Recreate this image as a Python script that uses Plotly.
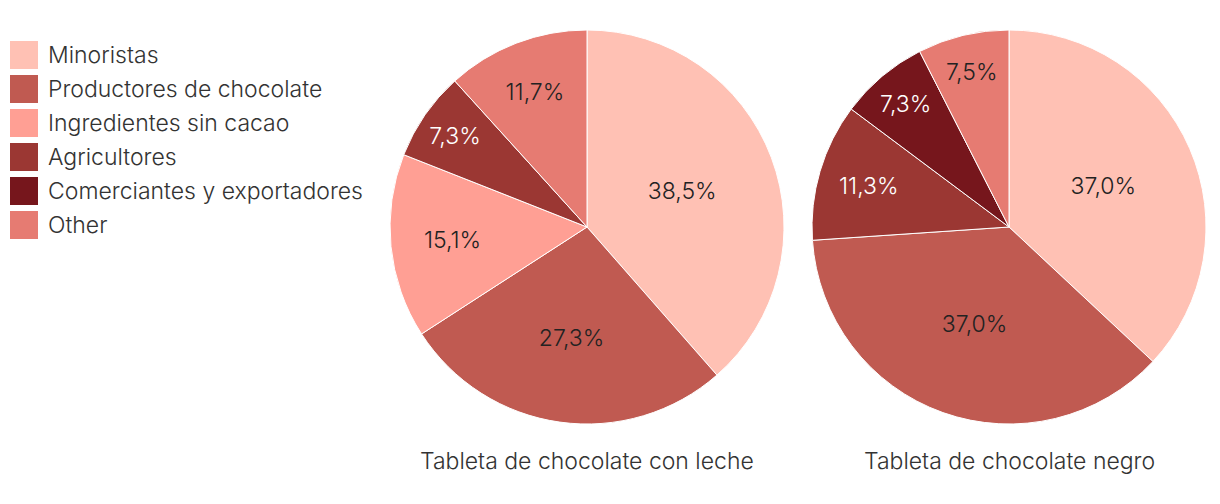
import plotly.graph_objects as go

categories = ["Minoristas", "Productores de chocolate", "Ingredientes sin cacao",
              "Agricultores", "Comerciantes y exportadores", "Other"]
colors = ["#ffc1b4", "#c05a51", "#ff9f94", "#9b3733", "#76161c", "#e67b72"]
text_colors = ["#222222", "#222222", "#222222", "#ffffff", "#ffffff", "#222222"]

milk_labels = ["Minoristas", "Productores de chocolate", "Ingredientes sin cacao", "Agricultores", "Other"]
milk_values = [38.5, 27.3, 15.1, 7.3, 11.7]

dark_labels = ["Minoristas", "Productores de chocolate", "Agricultores", "Comerciantes y exportadores", "Other"]
dark_values = [37.0, 37.0, 11.3, 7.3, 7.5]

titles = ["Tableta de chocolate con leche", "Tableta de chocolate negro"]

W, H = 1220, 504
FONT = "Inter"
FS = 23
cmap = dict(zip(categories, colors))
tmap = dict(zip(categories, text_colors))

fig = go.Figure()

def px_dom(cx, cy, r):
    return dict(x=[(cx - r) / W, (cx + r) / W], y=[1 - (cy + r) / H, 1 - (cy - r) / H])

for labels, values, (cx, cy) in [(milk_labels, milk_values, (587, 227)),
                                  (dark_labels, dark_values, (1009, 227))]:
    fig.add_trace(go.Pie(
        labels=labels, values=values, sort=False, direction="clockwise", rotation=0,
        marker=dict(colors=[cmap[l] for l in labels], line=dict(color="white", width=1)),
        texttemplate="%{value:.1f}%", textposition="inside", insidetextorientation="horizontal",
        textfont=dict(family=FONT, size=FS, color=[tmap[l] for l in labels], weight=300),
        domain=px_dom(cx, cy, 197), showlegend=False, hoverinfo="label+value",
    ))

annotations = []
for t, cx in zip(titles, [587, 1009]):
    annotations.append(dict(text=t, x=cx / W, y=1 - 461 / H, xref="paper", yref="paper",
                            xanchor="center", yanchor="middle", showarrow=False,
                            font=dict(family=FONT, size=FS, color="#333333", weight=300)))

shapes = []
for i, (c, col) in enumerate(zip(categories, colors)):
    yc = 55 + 34 * i
    shapes.append(dict(type="rect", xref="paper", yref="paper",
                       x0=10 / W, x1=38 / W, y0=1 - (yc + 14) / H, y1=1 - (yc - 14) / H,
                       fillcolor=col, line=dict(width=0)))
    annotations.append(dict(text=c, x=46 / W, y=1 - yc / H, xref="paper", yref="paper",
                            xanchor="left", yanchor="middle", showarrow=False,
                            font=dict(family=FONT, size=FS, color="#333333", weight=300)))

fig.update_layout(width=W, height=H, margin=dict(l=0, r=0, t=0, b=0),
                  paper_bgcolor="white", plot_bgcolor="white",
                  separators=",.", annotations=annotations, shapes=shapes,
                  uniformtext=dict(minsize=FS, mode="show"))

fig.write_html("out.html")
